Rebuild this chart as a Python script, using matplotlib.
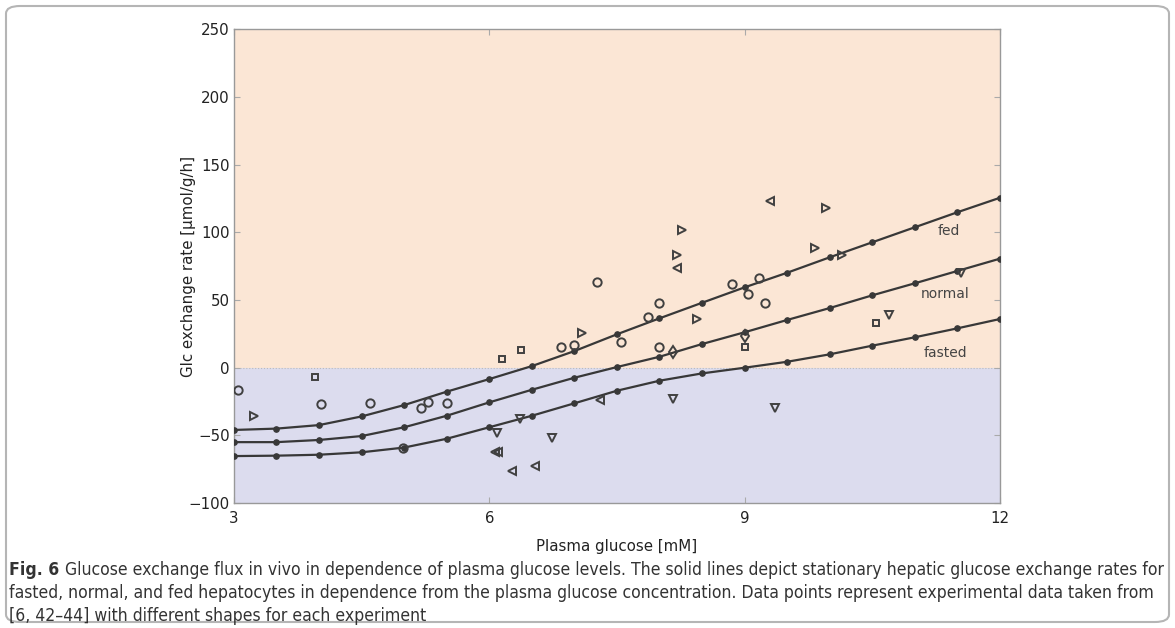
import numpy as np
import matplotlib
matplotlib.use("Agg")
import matplotlib.pyplot as plt
from matplotlib.patches import FancyBboxPatch

# model curves (stationary hepatic glucose exchange)
glc = [3, 3.5, 4, 4.5, 5, 5.5, 6, 6.5, 7, 7.5, 8, 8.5, 9, 9.5, 10, 10.5, 11, 11.5, 12]
fed = [-46, -45, -42.4, -36, -27.6, -17.7, -8.4, 1.2, 12.3, 24.7, 36.5, 48, 59.4, 70.2, 81.6, 92.7, 103.8, 114.9, 125.6]
normal = [-55, -55, -53.4, -50.5, -44, -35.5, -25.6, -16.3, -7.4, 0.5, 8.1, 17.5, 26.2, 35.3, 44.1, 53.5, 62.4, 71.5, 80.6]
fasted = [-65.3, -65, -64.3, -62.5, -59, -52.5, -44, -35.5, -26.3, -17, -9.6, -4.2, 0, 4.4, 9.9, 16.3, 22.5, 29.1, 36]

# experimental data, one marker shape per experiment
circ_x = [3.05, 4.02, 4.6, 5.2, 5.28, 5.5, 4.99, 6.84, 6.99, 7.55, 7.86, 7.99, 8.0, 7.27, 8.85, 9.17, 9.04, 9.24]
circ_y = [-16.5, -27.1, -26.3, -29.5, -25.4, -25.9, -59.6, 15.3, 16.5, 19.2, 37.2, 47.6, 15.5, 63.1, 61.9, 66, 54.2, 48]
sq_x = [3.95, 6.15, 6.37, 9.01, 10.54]
sq_y = [-7.1, 6.2, 13.1, 15.5, 33.3]
rtri_x = [3.24, 7.09, 8.44, 8.27, 8.2, 9.96, 9.83, 10.15]
rtri_y = [-35.7, 25.4, 35.8, 101.8, 83.3, 117.8, 88.7, 83.3]
ltri_x = [6.07, 6.1, 6.27, 6.54, 7.3, 8.2, 9.3]
ltri_y = [-62, -62.6, -76.1, -72.4, -23.9, 73.5, 123.4]
dtri_x = [6.36, 6.09, 6.74, 8.16, 9.36, 10.7, 11.54]
dtri_y = [-38.1, -48.5, -51.7, -22.9, -30, 38.7, 69.8]
dia_x = [8.16, 9.0]
dia_y = [11.6, 23.2]

xticks = [3, 6, 9, 12]
yticks = [-100, -50, 0, 50, 100, 150, 200, 250]

caption_bold = "Fig. 6 "
caption = ["Glucose exchange flux in vivo in dependence of plasma glucose levels. The solid lines depict stationary hepatic glucose exchange rates for",
           "fasted, normal, and fed hepatocytes in dependence from the plasma glucose concentration. Data points represent experimental data taken from",
           "[6, 42\u201344] with different shapes for each experiment"]

fig = plt.figure(figsize=(11.75, 6.28), dpi=100)
ax = fig.add_axes([0.1991, 0.199, 0.6519, 0.7541])

ax.axhspan(0, 250, color="#fbe6d5", lw=0, zorder=0)
ax.axhspan(-100, 0, color="#dcdcee", lw=0, zorder=0)
ax.axhline(0, color="#bbbbbb", ls=":", lw=0.8, zorder=1)

for curve in [fed, normal, fasted]:
    ax.plot(glc, curve, "-o", color="#383838", lw=1.6, ms=3.8, zorder=3)

mk = dict(ls="none", mfc="none", mec="#404040", mew=1.4, ms=6.2, zorder=4)
ax.plot(circ_x, circ_y, "o", **dict(mk, ms=6))
ax.plot(sq_x, sq_y, "s", **dict(mk, ms=5))
ax.plot(rtri_x, rtri_y, ">", **mk)
ax.plot(ltri_x, ltri_y, "<", **mk)
ax.plot(dtri_x, dtri_y, "v", **mk)
ax.plot(dia_x, dia_y, "d", **mk)

ax.text(11.4, 101, "fed", ha="center", va="center", fontsize=10, color="#444444")
ax.text(11.36, 54.5, "normal", ha="center", va="center", fontsize=10, color="#444444")
ax.text(11.36, 10.6, "fasted", ha="center", va="center", fontsize=10, color="#444444")

ax.set_xlim(3, 12)
ax.set_ylim(-100, 250)
ax.set_xticks(xticks)
ax.set_yticks(yticks)
ax.tick_params(direction="in", length=4, color="#aaaaaa", labelsize=10.8,
               labelcolor="#222222", right=True, top=True, pad=3)
ax.tick_params(axis="x", pad=6)
for s in ax.spines.values():
    s.set_color("#999999")
    s.set_linewidth(1.0)
ax.set_xlabel("Plasma glucose [mM]", fontsize=10.8, color="#222222", labelpad=9)
ax.set_ylabel("Glc exchange rate [µmol/g/h]", fontsize=10.8, color="#222222", labelpad=-5)

# rounded frame around the whole figure
frame = FancyBboxPatch((6 / 1175, 6 / 628), 1163 / 1175, 616 / 628,
                       boxstyle="round,pad=0,rounding_size=0.012",
                       transform=fig.transFigure, fc="none", ec="#b5b5b5", lw=1.5)
fig.patches.append(frame)

# caption: fit the font size to the width of the original lines
cap = dict(color="#333333", family="DejaVu Sans", fontstretch="condensed", va="baseline")
r = fig.canvas.get_renderer()
probe = fig.text(0, 0, caption[1], fontsize=11, **cap)
size = 11 * 1147 / probe.get_window_extent(r).width
probe.remove()

x0 = 9 / 1175
b = fig.text(x0, 1 - 575 / 628, caption_bold, fontweight="bold", fontsize=size, **cap)
bw = b.get_window_extent(r).width / 1175
fig.text(x0 + bw, 1 - 575 / 628, caption[0], fontsize=size, **cap)
fig.text(x0, 1 - 598 / 628, caption[1], fontsize=size, **cap)
fig.text(x0, 1 - 621 / 628, caption[2], fontsize=size, **cap)

fig.savefig("out.png", dpi=100)
